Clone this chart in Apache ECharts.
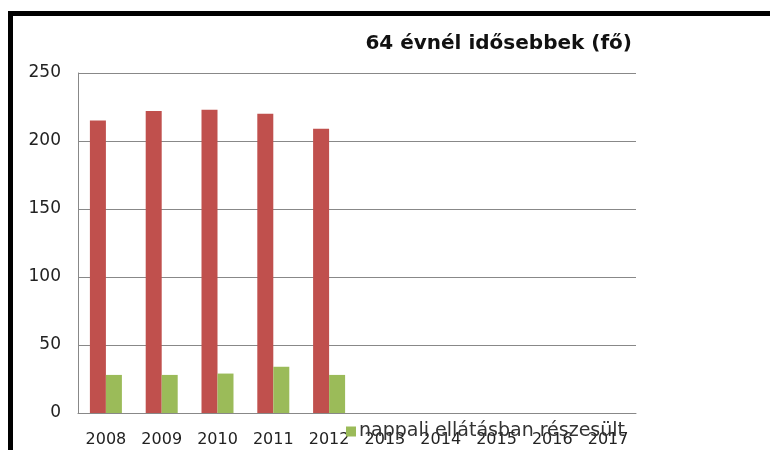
<!DOCTYPE html>
<html>
<head>
<meta charset="utf-8">
<script src="https://cdn.jsdelivr.net/npm/echarts@6/dist/echarts.min.js"></script>
<style>
  html, body { margin: 0; padding: 0; background: #fff; }
  #chart { width: 770px; height: 450px; }
  .frame {
    position: absolute;
    left: 8px;
    top: 11px;
    width: 800px;
    height: 500px;
    border-top: 5px solid #000;
    border-left: 5px solid #000;
    pointer-events: none;
  }
</style>
</head>
<body>
<div id="chart"></div>
<div class="frame"></div>
<script>
const years = ['2008', '2009', '2010', '2011', '2012', '2013', '2014', '2015', '2016', '2017']
const totalOver64 = [215, 222, 223, 220, 209, null, null, null, null, null]
const dayCare = [28, 28, 29, 34, 28, null, null, null, null, null]
const yTicks = [0, 50, 100, 150, 200, 250]

const chart = echarts.init(document.getElementById('chart'))

const font = 'DejaVu Sans'

chart.setOption({
  animation: false,
  title: {
    text: '64 évnél idősebbek (fő)',
    right: 138,
    top: 34,
    padding: 0,
    textStyle: {
      fontFamily: font,
      fontSize: 20,
      fontWeight: 'bold',
      color: '#111'
    }
  },
  legend: {
    data: ['nappali ellátásban részesült'],
    left: 346,
    top: 422,
    padding: 0,
    itemWidth: 10,
    itemHeight: 10,
    icon: 'rect',
    textStyle: {
      fontFamily: font,
      fontSize: 19,
      color: '#333',
      padding: [0, 0, 0, -2]
    }
  },
  grid: {
    left: 78,
    right: 134,
    top: 73,
    bottom: 37
  },
  xAxis: {
    type: 'category',
    data: years,
    axisLine: { show: true, lineStyle: { color: '#888', width: 1 } },
    axisTick: { show: false },
    axisLabel: {
      fontFamily: font,
      fontSize: 16,
      color: '#222',
      margin: 19,
      interval: 0
    }
  },
  yAxis: {
    type: 'value',
    min: yTicks[0],
    max: yTicks[yTicks.length - 1],
    interval: 50,
    axisLine: { show: true, lineStyle: { color: '#888', width: 1 } },
    axisTick: { show: false },
    axisLabel: {
      fontFamily: font,
      fontSize: 17,
      color: '#222',
      margin: 17
    },
    splitLine: { show: true, lineStyle: { color: '#888', width: 1 } }
  },
  series: [
    {
      name: '64 évnél idősebbek',
      type: 'bar',
      data: totalOver64,
      barWidth: 16,
      barGap: '0%',
      itemStyle: { color: '#C0504D' }
    },
    {
      name: 'nappali ellátásban részesült',
      type: 'bar',
      data: dayCare,
      barWidth: 16,
      barGap: '0%',
      itemStyle: { color: '#9BBB59' }
    }
  ]
})
</script>
</body>
</html>
